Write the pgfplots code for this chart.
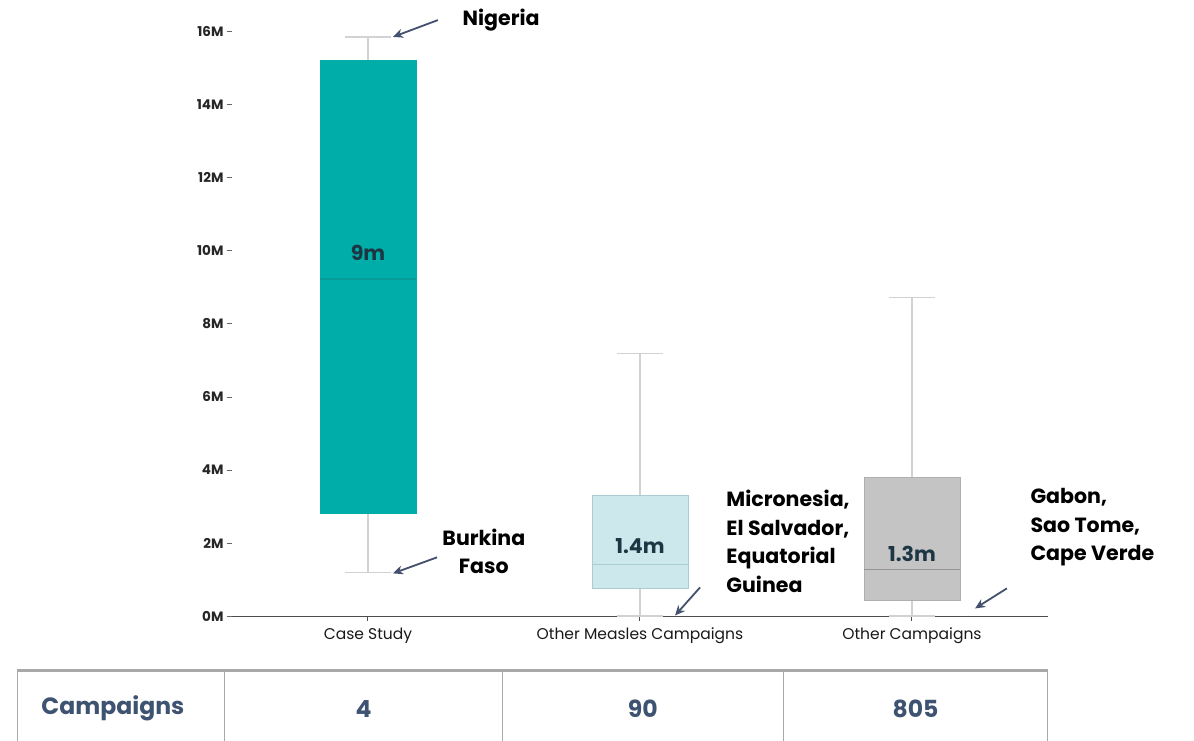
\documentclass[border=0pt]{standalone}
\usepackage{pgfplots}
\pgfplotsset{compat=1.18}
\usepgfplotslibrary{statistics}
\usetikzlibrary{arrows.meta}
\usepackage{fontspec}
\setmainfont{Poppins}
\definecolor{teal1}{HTML}{00ADA8}
\definecolor{teal2}{HTML}{079C97}
\definecolor{lcyan}{HTML}{CDE8EC}
\definecolor{lcyanb}{HTML}{A9CDD2}
\definecolor{gbox}{HTML}{C4C4C4}
\definecolor{gboxb}{HTML}{AEAEAE}
\definecolor{whisk}{HTML}{D2D2D2}
\definecolor{slate}{HTML}{3E5271}
\definecolor{arr}{HTML}{44506E}
\definecolor{medtxt}{HTML}{1D3644}
\definecolor{tline}{HTML}{A8A8A8}
\begin{document}
\begin{tikzpicture}
\begin{axis}[
  scale only axis, width=814pt, height=584pt,
  xmin=-0.5, xmax=2.5, ymin=0, ymax=16,
  clip=false,
  axis x line=bottom, axis y line=left,
  x axis line style={draw=black!70, line width=1.4pt, -},
  y axis line style={draw=none},
  xtick={0,1,2},
  xticklabels={Case Study, Other Measles Campaigns, Other Campaigns},
  ytick={0,2,4,6,8,10,12,14,16},
  yticklabels={0M,2M,4M,6M,8M,10M,12M,14M,16M},
  tick align=outside, major tick length=5pt,
  x tick style={draw=black!70, line width=1pt},
  y tick style={draw=black!60, line width=0.8pt},
  x tick label style={font=\fontsize{15.5}{18}\selectfont, text=black!90, yshift=-2.5pt},
  y tick label style={font=\bfseries\fontsize{13.5}{15}\selectfont, text=black!85},
  /pgf/number format/assume math mode=true,
  boxplot/draw direction=y,
]
% Case Study
\addplot+[mark=none, fill=teal1, draw=teal1,
  boxplot/every whisker/.style={draw=whisk, line width=1.2pt},
  boxplot/every median/.style={draw=teal2, line width=1.5pt},
  boxplot prepared={lower whisker=1.2, lower quartile=2.82, median=9.23,
    upper quartile=15.2, upper whisker=15.84, draw position=0,
    box extend=0.353, whisker extend=0.17}] coordinates {};
% Other Measles Campaigns
\addplot+[mark=none, fill=lcyan, draw=lcyanb, line width=0.8pt,
  boxplot/every whisker/.style={draw=whisk, line width=1.2pt},
  boxplot/every median/.style={draw=lcyanb, line width=1.5pt},
  boxplot prepared={lower whisker=0.01, lower quartile=0.77, median=1.42,
    upper quartile=3.32, upper whisker=7.18, draw position=1,
    box extend=0.353, whisker extend=0.17}] coordinates {};
% Other Campaigns
\addplot+[mark=none, fill=gbox, draw=gboxb, line width=0.8pt,
  boxplot/every whisker/.style={draw=whisk, line width=1.2pt},
  boxplot/every median/.style={draw=gboxb!85!black, line width=1.5pt},
  boxplot prepared={lower whisker=0.01, lower quartile=0.44, median=1.29,
    upper quartile=3.81, upper whisker=8.71, draw position=2,
    box extend=0.353, whisker extend=0.17}] coordinates {};

% median labels
\node[font=\bfseries\fontsize{20.5}{24}\selectfont, text=medtxt] at (axis cs:0,9.95) {9m};
\node[font=\bfseries\fontsize{20.5}{24}\selectfont, text=medtxt] at (axis cs:1,1.92) {1.4m};
\node[font=\bfseries\fontsize{20.5}{24}\selectfont, text=medtxt] at (axis cs:2,1.70) {1.3m};

% annotations
\draw[arr, line width=1.8pt, -{Stealth[length=10pt,width=9pt]}] (axis cs:0.257,16.30) -- (axis cs:0.092,15.84);
\node[anchor=west, font=\bfseries\fontsize{20.5}{29}\selectfont] at (axis cs:0.335,16.30) {Nigeria};
\draw[arr, line width=1.8pt, -{Stealth[length=10pt,width=9pt]}] (axis cs:0.254,1.616) -- (axis cs:0.092,1.178);
\node[align=center, font=\bfseries\fontsize{20.5}{28.5}\selectfont] at (axis cs:0.426,1.78) {Burkina\\Faso};
\draw[arr, line width=1.8pt, -{Stealth[length=10pt,width=9pt]}] (axis cs:1.221,0.795) -- (axis cs:1.129,0.027);
\node[anchor=west, align=left, font=\bfseries\fontsize{20.5}{28.7}\selectfont] at (axis cs:1.305,2.05) {Micronesia,\\El Salvador,\\Equatorial\\Guinea};
\draw[arr, line width=1.8pt, -{Stealth[length=10pt,width=9pt]}] (axis cs:2.349,0.767) -- (axis cs:2.232,0.219);
\node[anchor=west, align=left, font=\bfseries\fontsize{20.5}{28.7}\selectfont] at (axis cs:2.423,2.44) {Gabon,\\Sao Tome,\\Cape Verde};

% table
\draw[tline, line width=2.2pt] (axis cs:-1.290,-1.479) -- (axis cs:2.50,-1.479);
\draw[tline, line width=1pt] (axis cs:-1.290,-1.479) -- (axis cs:-1.290,-3.5);
\draw[tline, line width=1pt] (axis cs:-0.526,-1.479) -- (axis cs:-0.526,-3.5);
\draw[tline, line width=1pt] (axis cs:0.493,-1.479) -- (axis cs:0.493,-3.5);
\draw[tline, line width=1pt] (axis cs:1.526,-1.479) -- (axis cs:1.526,-3.5);
\draw[tline, line width=1pt] (axis cs:2.50,-1.479) -- (axis cs:2.50,-3.5);
\node[font=\bfseries\fontsize{23.5}{26}\selectfont, text=slate] at (axis cs:-0.938,-2.52) {Campaigns};
\node[font=\bfseries\fontsize{23.5}{26}\selectfont, text=slate] at (axis cs:-0.016,-2.52) {4};
\node[font=\bfseries\fontsize{23.5}{26}\selectfont, text=slate] at (axis cs:1.01,-2.52) {90};
\node[font=\bfseries\fontsize{23.5}{26}\selectfont, text=slate] at (axis cs:2.013,-2.52) {805};

\coordinate (BL) at (axis cs:-1.353,-3.397);
\coordinate (TR) at (axis cs:3.037,16.849);
\end{axis}
\pgfresetboundingbox
\path[use as bounding box] (BL) rectangle (TR);
\end{tikzpicture}
\end{document}
